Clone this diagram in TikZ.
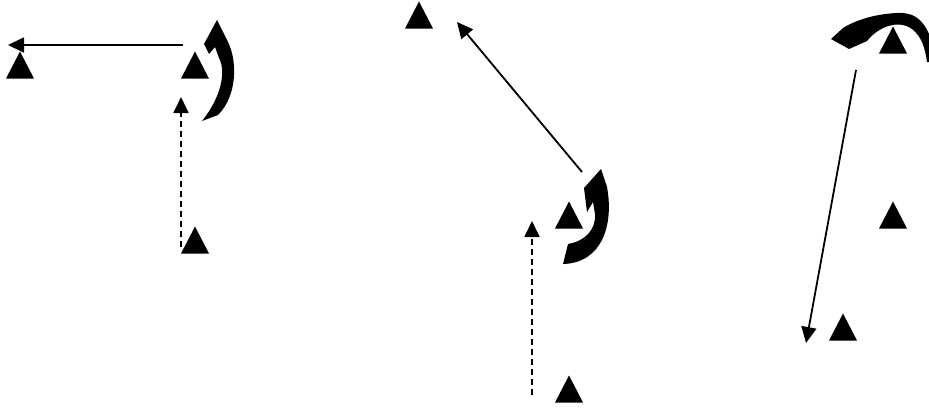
\documentclass[tikz,border=0pt]{standalone}
\usetikzlibrary{arrows.meta,calc,shapes.geometric}

\begin{document}
\begin{tikzpicture}[x=1pt, y=-1pt,
        tri/.style={isosceles triangle, shape border rotate=90, isosceles triangle stretches,
            minimum width=28pt, minimum height=27pt, inner sep=0pt, fill=black},
        move/.style={line width=1.8pt, -{Triangle[length=16pt,width=15pt]}},
        dashmove/.style={move, dash pattern=on 6pt off 4pt},
        turn/.style={fill=black}]
        \useasboundingbox (0,0) rectangle (929,408);

        % first stage
        \node[tri] (t1) at (20,70) {};
        \node[tri] (t2) at (195,70) {};
        \node[tri] (t3) at (195,245) {};

        \coordinate (a1) at ($(t2) + (-12,-25)$);
        \coordinate (b1) at ($(t1) + (-12,-25)$);
        \coordinate (a2) at ($(t3) + (-14,2)$);
        \coordinate (b2) at ($(t2) + (-14,27)$);

        \draw [move] (a1) to (b1);
        \draw [dashmove] (a2) to (b2);
        \fill [turn] (217,20) -- (204,44) -- (209,54) -- (215,47) -- (219,58)
            .. controls (226,71) and (222,96) .. (202,121) -- (218,115)
            .. controls (238,95) and (237,60) .. (228,42) -- cycle;

        % second stage
        \node[tri] (t4) at (419,20) {};
        \node[tri] (t5) at (569,220) {};
        \node[tri] (t6) at (569,394) {};

        \coordinate (a3) at ($(t5) + (13,-48)$);
        \coordinate (b3) at ($(t4) + (38,2)$);
        \coordinate (a4) at ($(t6) + (-37,1)$);
        \coordinate (b4) at ($(t5) + (-37,1)$);

        \draw [move] (a3) to (b3);
        \draw [dashmove] (a4) to (b4);
        \fill [turn] (601,169) -- (584,188) -- (587,212) -- (593,202) -- (595,214)
            .. controls (596,230) and (585,241) .. (568,244) -- (563,264)
            .. controls (602,263) and (614,225) .. (607,187) -- cycle;

        % third stage
        \node[tri] (t7) at (893,45) {};
        \node[tri] (t8) at (893,220) {};
        \node[tri] (t9) at (843,332) {};

        \coordinate (a5) at ($(t7) + (-37,25)$);
        \coordinate (b5) at ($(t9) + (-37,11)$);

        \draw [move] (a5) to (b5);
        \fill [turn] (831,39) -- (849,49) -- (867,41)
            .. controls (878,27) and (898,19) .. (912,29)
            .. controls (922,37) and (925,48) .. (927,62) -- (929,62) -- (929,34)
            .. controls (922,18) and (912,12) .. (897,13)
            .. controls (875,14) and (856,20) .. (843,28) -- cycle;
\end{tikzpicture}
\end{document}
